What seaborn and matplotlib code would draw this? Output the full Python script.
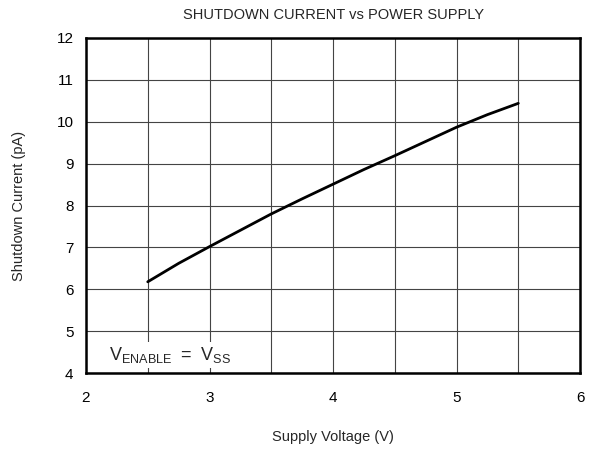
import seaborn as sns
import pandas as pd
import matplotlib.pyplot as plt

supply_voltage = [2.5, 2.75, 3.0, 3.25, 3.5, 3.75, 4.0, 4.25, 4.5, 4.75, 5.0, 5.25, 5.5]
shutdown_current = [6.18, 6.62, 7.02, 7.41, 7.80, 8.16, 8.51, 8.86, 9.19, 9.53, 9.87, 10.17, 10.44]

sns.set_theme(style="white")
plt.rcParams['font.family'] = ['Liberation Sans', 'DejaVu Sans']

df = pd.DataFrame({"Supply Voltage (V)": supply_voltage,
                   "Shutdown Current (pA)": shutdown_current})

fig = plt.figure(figsize=(5.98, 4.49), dpi=100)
ax = fig.add_axes([0.1438, 0.169, 0.8262, 0.7464])
sns.lineplot(df, x="Supply Voltage (V)", y="Shutdown Current (pA)",
             color="black", linewidth=2, ax=ax, zorder=3)

ax.set_xlim(2, 6)
ax.set_ylim(4, 12)
ax.set_xticks([2, 3, 4, 5, 6])
ax.set_xticks([2.5, 3.5, 4.5, 5.5], minor=True)
ax.set_yticks(range(4, 13))
ax.grid(True, which="both", color="#444444", linewidth=0.8)
ax.tick_params(which="both", length=0, labelsize=11, colors="black")
ax.tick_params(axis="x", pad=13)
ax.tick_params(axis="y", pad=9)
for s in ax.spines.values():
    s.set_color("black")
    s.set_linewidth(1.8)
    s.set_zorder(4)

ax.set_xlabel("Supply Voltage (V)", fontsize=10.5, labelpad=18)
ax.set_ylabel("Shutdown Current (pA)", fontsize=10.5, labelpad=22)
ax.set_title("SHUTDOWN CURRENT vs POWER SUPPLY", fontsize=10.5, pad=14)

ax.text(2.19, 4.43, r"$\mathregular{V_{ENABLE}\ =\ V_{SS}}$", fontsize=13,
        va="center", ha="left", zorder=5,
        bbox=dict(facecolor="white", edgecolor="none", pad=2))

fig.savefig("out.png", dpi=100)
